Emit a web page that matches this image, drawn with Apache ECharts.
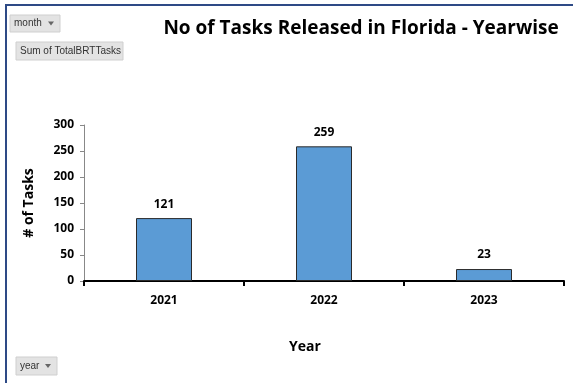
<!DOCTYPE html>
<html>
<head>
<meta charset="utf-8">
<script src="https://cdn.jsdelivr.net/npm/echarts@6/dist/echarts.min.js"></script>
<style>
  html, body { margin: 0; padding: 0; background: #fff; }
  #chart { width: 573px; height: 383px; }
</style>
</head>
<body>
<div id="chart"></div>
<script>
// Tasks released per year
const years = ['2021', '2022', '2023'];
const taskCounts = [121, 259, 23];
const yTicks = [0, 50, 100, 150, 200, 250, 300];

const chart = echarts.init(document.getElementById('chart'));
const font = '"Open Sans", "Liberation Sans", sans-serif';

// Small grey pivot-field buttons
function fieldButton(x, y, w, h, text, arrow) {
  const children = [
    { type: 'rect', shape: { x: 0, y: 0, width: w, height: h },
      style: { fill: '#e3e3e3', stroke: '#cfcfcf', lineWidth: 1 } },
    { type: 'text', style: { x: 4, y: h / 2, text: text, fill: '#333',
      font: '10px "Liberation Sans Narrow", "Liberation Sans", sans-serif', verticalAlign: 'middle' } }
  ];
  if (arrow) {
    children.push({ type: 'polygon', shape: { points: [[w - 12, h / 2 - 2], [w - 6, h / 2 - 2], [w - 9, h / 2 + 2]] },
      style: { fill: '#666' } });
  }
  return { type: 'group', x: x, y: y, children: children };
}

chart.setOption({
  animation: false,
  backgroundColor: '#fff',
  title: {
    text: 'No of Tasks Released in Florida - Yearwise',
    left: 356, top: 14, textAlign: 'center',
    textStyle: { fontFamily: font, fontSize: 19, fontWeight: 'bold', color: '#000' }
  },
  grid: { left: 84, right: 9, top: 125, bottom: 102 },
  xAxis: {
    type: 'category',
    data: years,
    name: 'Year',
    nameLocation: 'middle',
    nameGap: 59,
    nameTextStyle: { fontFamily: font, fontSize: 14, fontWeight: 'bold', color: '#000', padding: [0, 38, 0, 0] },
    axisLine: { lineStyle: { color: '#000', width: 2 } },
    axisTick: { show: true, length: 5, lineStyle: { color: '#000', width: 2 } },
    axisLabel: { fontFamily: font, fontSize: 12, fontWeight: 'bold', color: '#000', margin: 14 }
  },
  yAxis: {
    type: 'value',
    min: 0, max: 300, interval: 50,
    name: '# of Tasks',
    nameLocation: 'middle',
    nameGap: 48,
    nameTextStyle: { fontFamily: font, fontSize: 14, fontWeight: 'bold', color: '#000' },
    axisLine: { show: true, lineStyle: { color: '#888', width: 1 } },
    axisTick: { show: true, length: 4, lineStyle: { color: '#888' } },
    splitLine: { show: false },
    axisLabel: {
      fontFamily: font, fontSize: 12, fontWeight: 'bold', color: '#000', margin: 10,
      formatter: v => yTicks.includes(v) ? String(v) : ''
    }
  },
  series: [{
    type: 'bar',
    data: taskCounts,
    barWidth: 56,
    itemStyle: { color: '#5b9bd5', borderColor: '#2b2b2b', borderWidth: 1 },
    label: {
      show: true, position: 'top', distance: 8,
      fontFamily: font, fontSize: 12, fontWeight: 'bold', color: '#000'
    }
  }],
  graphic: [
    { type: 'rect', shape: { x: 5, y: 4, width: 568, height: 2 }, style: { fill: '#2e4a86' } },
    { type: 'rect', shape: { x: 5, y: 4, width: 2, height: 379 }, style: { fill: '#2e4a86' } },
    fieldButton(10, 15, 50, 17, 'month', true),
    fieldButton(16, 42, 107, 18, 'Sum of TotalBRTTasks', false),
    fieldButton(16, 357, 41, 18, 'year', true)
  ]
});
</script>
</body>
</html>
